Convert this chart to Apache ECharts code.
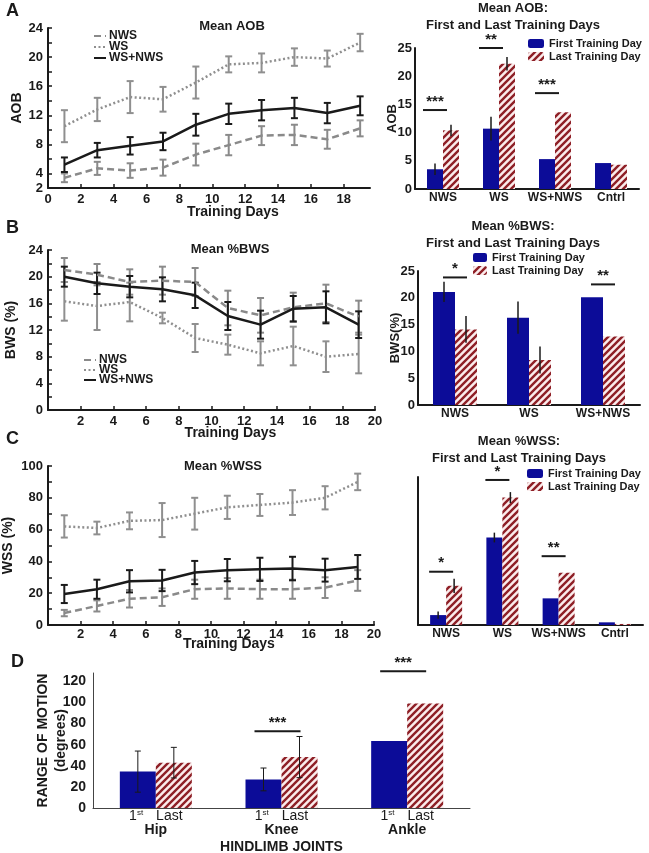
<!DOCTYPE html>
<html>
<head>
<meta charset="utf-8">
<script src="https://cdn.jsdelivr.net/npm/echarts@6/dist/echarts.min.js"></script>
<style>
  html, body { margin: 0; padding: 0; background: #fff; }
  #chart { width: 649px; height: 853px; }
</style>
</head>
<body>
<div id="chart"></div>
<script>
// training days shared by the three time-course panels
const days = [1, 3, 5, 7, 9, 11, 13, 15, 17, 19]

// A: mean AOB over training
const aobNWS = [3.4, 4.7, 4.4, 4.8, 6.6, 7.9, 9.2, 9.3, 8.7, 10.2]
const aobNWSErr = [0.6, 0.9, 1.0, 1.1, 1.5, 1.4, 1.3, 1.4, 1.3, 1.1]
const aobWS = [10.5, 12.8, 14.5, 14.2, 16.5, 19.0, 19.2, 20.0, 19.8, 22.0]
const aobWSErr = [2.2, 1.6, 2.2, 1.7, 2.2, 1.1, 1.3, 1.2, 1.1, 1.2]
const aobMix = [5.2, 7.2, 7.8, 8.4, 10.7, 12.2, 12.7, 13.0, 12.3, 13.3]
const aobMixErr = [1.0, 1.0, 1.2, 1.2, 1.5, 1.4, 1.4, 1.4, 1.4, 1.3]
const aobYTicks = [2, 4, 8, 12, 16, 20, 24]

// A: first vs last day
const aobGroups = ['NWS', 'WS', 'WS+NWS', 'Cntrl']
const aobFirst = [3.5, 10.7, 5.3, 4.6]
const aobFirstErr = [1.0, 2.1, 2.3, 1.5]
const aobLast = [10.4, 22.2, 13.6, 4.3]
const aobLastErr = [1.0, 1.2, 1.2, 1.5]
const aobSig = [[0, 14], [1, 25], [2, 17]]
const aobSigText = ['***', '**', '***']

// B: mean %BWS over training
const bwsNWS = [21.0, 20.3, 19.2, 19.4, 19.2, 15.3, 14.2, 15.4, 16.0, 14.0]
const bwsNWSErr = [1.8, 1.6, 1.9, 2.1, 2.1, 2.6, 2.6, 2.2, 2.8, 2.4]
const bwsWS = [16.3, 15.6, 16.2, 13.8, 10.8, 9.8, 8.5, 9.6, 8.0, 8.4]
const bwsWSErr = [2.9, 3.6, 2.9, 0.8, 2.1, 1.5, 1.8, 2.9, 2.3, 2.9]
const bwsMix = [20.0, 19.0, 18.5, 18.1, 17.2, 14.1, 12.8, 15.2, 15.4, 12.8]
const bwsMixErr = [1.5, 1.6, 1.6, 1.8, 1.9, 2.1, 2.1, 1.9, 2.4, 2.0]
const bwsYTicks = [0, 4, 8, 12, 16, 20, 24]

// B: first vs last day
const bwsGroups = ['NWS', 'WS', 'WS+NWS']
const bwsFirst = [21.1, 16.3, 20.1]
const bwsFirstErr = [1.9, 3.0, 1.5]
const bwsLast = [14.1, 8.4, 12.8]
const bwsLastErr = [2.5, 2.5, 2.0]
const bwsSig = [[0, 23.8], [2, 22.5]]
const bwsSigText = ['*', '**']

// C: mean %WSS over training
const wssNWS = [7.5, 12.0, 16.5, 17.5, 22.5, 23.0, 22.5, 22.5, 23.5, 28.0]
const wssNWSErr = [2.0, 3.5, 5.5, 5.5, 6.0, 6.5, 6.0, 6.0, 6.5, 6.5]
const wssWS = [62, 61, 65.5, 66, 70, 74, 75.5, 77, 80, 90]
const wssWSErr = [7, 4, 5.3, 10.7, 10, 7.3, 6.9, 7.8, 7.3, 5.2]
const wssMix = [19.5, 22.5, 27.5, 28.0, 33.0, 34.5, 35.0, 35.5, 34.5, 36.5]
const wssMixErr = [5.7, 6, 7, 6.7, 7.3, 7, 7.3, 7.4, 7.2, 7.5]
const wssYTicks = [0, 20, 40, 60, 80, 100]

// C: first vs last day
const wssGroups = ['NWS', 'WS', 'WS+NWS', 'Cntrl']
const wssFirst = [6.7, 59.1, 18.0, 1.8]
const wssFirstErr = [2.4, 3.3, 7.6, 1.5]
const wssLast = [26.5, 86.1, 35.3, 0.7]
const wssLastErr = [4.8, 3.7, 5.0, 0.8]
const wssSig = [[0, 36], [1, 98], [2, 46.5]]
const wssSigText = ['*', '*', '**']

// D: range of motion per joint
const joints = ['Hip', 'Knee', 'Ankle']
const romFirst = [34.5, 27.1, 63.6]
const romFirstErr = [19.5, 10.8, 33.8]
const romLast = [43, 48.3, 99]
const romLastErr = [14.5, 19.5, 25]
const romSig = [[1, 72.8], [2, 129.7]]
const romSigText = ['***', '***']

const FONT = '"Liberation Sans", Arial, sans-serif'
const INK = '#1a1a1a'
const BLUE = '#0c0c98'
const GREY = '#8a8a8a'
const GREY_DOT = '#8f8f8f'

// diagonal red hatch for "last day" bars
function makeHatch() {
  const s = 7
  const c = document.createElement('canvas')
  c.width = s
  c.height = s
  const g = c.getContext('2d')
  g.fillStyle = '#fbecec'
  g.fillRect(0, 0, s, s)
  g.strokeStyle = '#8e1f26'
  g.lineWidth = 2.4
  g.beginPath()
  g.moveTo(0, s); g.lineTo(s, 0)
  g.moveTo(-s / 2, s / 2); g.lineTo(s / 2, -s / 2)
  g.moveTo(s / 2, s * 1.5); g.lineTo(s * 1.5, s / 2)
  g.stroke()
  return c
}
const HATCH = { image: makeHatch(), repeat: 'repeat' }

const txt = (size, extra) => Object.assign({ color: INK, fontFamily: FONT, fontWeight: 'bold', fontSize: size }, extra || {})
const pairs = (xs, ys) => ys.map((y, i) => [xs[i], y])
const spans = (xs, m, e) => m.map((v, i) => [xs[i], v - e[i], v + e[i]])
const idx = (arr) => arr.map((_, i) => i)

function errRender(dx, cap, width) {
  return (params, api) => {
    const x = api.value(0)
    const top = api.coord([x, api.value(2)])
    const bot = api.coord([x, api.value(1)])
    const px = top[0] + dx
    const style = { stroke: api.visual('color'), lineWidth: width }
    const kids = [{ type: 'line', shape: { x1: px, y1: top[1], x2: px, y2: bot[1] }, style }]
    if (cap > 0) {
      kids.push({ type: 'line', shape: { x1: px - cap, y1: top[1], x2: px + cap, y2: top[1] }, style })
      kids.push({ type: 'line', shape: { x1: px - cap, y1: bot[1], x2: px + cap, y2: bot[1] }, style })
    }
    return { type: 'group', children: kids }
  }
}

function sigRender(texts, dx, half, font) {
  return (params, api) => {
    const p = api.coord([api.value(0), api.value(1)])
    const cx = p[0] + dx
    return {
      type: 'group',
      children: [
        { type: 'line', shape: { x1: cx - half, y1: p[1], x2: cx + half, y2: p[1] }, style: { stroke: INK, lineWidth: 2 } },
        {
          type: 'text', x: cx, y: p[1] - 1,
          style: { text: texts[params.dataIndex], font, fill: INK, align: 'center', verticalAlign: 'bottom', textAlign: 'center', textVerticalAlign: 'bottom' },
        },
      ],
    }
  }
}

function errSeries(name, xi, data, color, render) {
  return { name, type: 'custom', xAxisIndex: xi, yAxisIndex: xi, data, clip: false, itemStyle: { color }, renderItem: render, silent: true, z: 3 }
}

function lineSeries(name, xi, data, color, type) {
  return { name, type: 'line', xAxisIndex: xi, yAxisIndex: xi, data, symbol: 'none', lineStyle: { color, width: 2.5, type }, itemStyle: { color }, z: 4, silent: true }
}

function timeCourse(xi, nws, nwsE, ws, wsE, mix, mixE) {
  const er = errRender(0, 3.5, 2)
  return [
    errSeries('e-nws-' + xi, xi, spans(days, nws, nwsE), GREY, er),
    errSeries('e-ws-' + xi, xi, spans(days, ws, wsE), GREY_DOT, er),
    lineSeries('NWS', xi, pairs(days, nws), GREY, [7, 4]),
    lineSeries('WS', xi, pairs(days, ws), GREY_DOT, [2, 2.5]),
    errSeries('e-mix-' + xi, xi, spans(days, mix, mixE), INK, er),
    lineSeries('WS+NWS', xi, pairs(days, mix), INK, 'solid'),
  ]
}

function firstLast(xi, names, first, firstE, last, lastE, bw, sig, sigText, sigDx, sigHalf, errW, cap) {
  const g = idx(names)
  return [
    { name: names[0], type: 'bar', xAxisIndex: xi, yAxisIndex: xi, data: first, barWidth: bw, barGap: '0%', itemStyle: { color: BLUE }, silent: true },
    { name: names[1], type: 'bar', xAxisIndex: xi, yAxisIndex: xi, data: last, barWidth: bw, barGap: '0%', itemStyle: { color: HATCH }, silent: true },
    errSeries('e-f-' + xi, xi, spans(g, first, firstE), INK, errRender(-bw / 2, cap, errW)),
    errSeries('e-l-' + xi, xi, spans(g, last, lastE), INK, errRender(bw / 2, cap, errW)),
    errSeries('sig-' + xi, xi, sig, INK, sigRender(sigText, sigDx, sigHalf, 'bold 15px ' + FONT)),
  ]
}

const LEG_LINES = ['NWS', 'WS', 'WS+NWS']
const LEG_BARS = ['First Training Day', 'Last Training Day']

const lineX = (gi, max, margin, nameGap, pad, fmt) => ({
  gridIndex: gi, type: 'value', min: 0, max, interval: 2,
  splitLine: { show: false },
  axisLine: { lineStyle: { color: INK, width: 2 } },
  axisTick: { show: true, inside: true, length: 4, lineStyle: { color: INK, width: 1.5 } },
  axisLabel: Object.assign(txt(13), { margin, formatter: fmt, showMaxLabel: max % 2 === 0 }),
  name: 'Training Days', nameLocation: 'middle', nameGap, nameMoveOverlap: false,
  nameTextStyle: txt(14, { padding: pad }),
})

const lineY = (gi, min, max, interval, shown, name, nameGap) => ({
  gridIndex: gi, type: 'value', min, max, interval,
  splitLine: { show: false },
  axisLine: { show: true, lineStyle: { color: INK, width: 2 } },
  axisTick: { show: true, inside: true, length: 4, lineStyle: { color: INK, width: 1.5 } },
  axisLabel: Object.assign(txt(13), { margin: 5, formatter: (v) => (shown.includes(v) ? String(v) : '') }),
  name, nameLocation: 'middle', nameGap, nameMoveOverlap: false, nameTextStyle: txt(14),
})

const barX = (gi, data) => ({
  gridIndex: gi, type: 'category', data,
  axisLine: { lineStyle: { color: INK, width: 2 } },
  axisTick: { show: false },
  axisLabel: Object.assign(txt(12), { margin: 3, interval: 0 }),
})

const barY = (gi, max, interval, name, showLabels) => ({
  gridIndex: gi, type: 'value', min: 0, max, interval,
  splitLine: { show: false },
  axisLine: { show: true, lineStyle: { color: INK, width: 2 } },
  axisTick: { show: false },
  axisLabel: Object.assign(txt(13), { margin: 3, show: showLabels }),
  name, nameLocation: 'middle', nameGap: 16, nameMoveOverlap: false, nameTextStyle: txt(13),
})

const allEven = (v) => (v % 2 === 0 ? String(v) : '')
const hideZero = (v) => (v !== 0 && v % 2 === 0 ? String(v) : '')

const lineLegend = (left, top, gap) => ({
  data: LEG_LINES, left, top, orient: 'vertical', itemWidth: 12, itemHeight: 8, itemGap: gap,
  selectedMode: false, itemStyle: { opacity: 0, borderWidth: 0 },
  textStyle: txt(12, { lineHeight: 10, padding: [0, 0, 0, -2] }),
})

const barLegend = (left, top, w) => ({
  data: LEG_BARS, left, top, orient: 'vertical', itemWidth: w, itemHeight: 9, itemGap: 2,
  selectedMode: false, textStyle: txt(11, { lineHeight: 11 }),
})

const panel = (left, top, width, height) => ({ left, top, width, height, outerBoundsMode: 'none', containLabel: false })

const option = {
  animation: false,
  backgroundColor: '#fff',
  title: [
    { text: 'A', left: 6, top: 2, padding: 0, textStyle: txt(18) },
    { text: 'B', left: 6, top: 219, padding: 0, textStyle: txt(18) },
    { text: 'C', left: 6, top: 430, padding: 0, textStyle: txt(18) },
    { text: 'D', left: 11, top: 653, padding: 0, textStyle: txt(18) },
    { text: 'Mean AOB', left: 232, top: 20, padding: 0, textAlign: 'center', textStyle: txt(13) },
    { text: 'Mean AOB:\nFirst and Last Training Days', left: 513, top: 0, padding: 0, textAlign: 'center', textStyle: txt(13, { lineHeight: 17 }) },
    { text: 'Mean %BWS', left: 230, top: 243, padding: 0, textAlign: 'center', textStyle: txt(13) },
    { text: 'Mean %BWS:\nFirst and Last Training Days', left: 513, top: 218, padding: 0, textAlign: 'center', textStyle: txt(13, { lineHeight: 17 }) },
    { text: 'Mean %WSS', left: 223, top: 460, padding: 0, textAlign: 'center', textStyle: txt(13) },
    { text: 'Mean %WSS:\nFirst and Last Training Days', left: 519, top: 433, padding: 0, textAlign: 'center', textStyle: txt(13, { lineHeight: 17 }) },
  ],
  legend: [
    lineLegend(88, 25, -1),
    lineLegend(78, 349, -2),
    barLegend(523, 33, 16),
    barLegend(468, 247, 14),
    barLegend(522, 463, 16),
  ],
  grid: [
    panel(48, 28, 322, 160),
    panel(415, 48, 224, 141),
    panel(48, 250, 327, 160),
    panel(418, 271, 222, 134),
    panel(48, 466, 326, 159),
    panel(418, 477, 225, 148),
    panel(93, 673, 377, 135),
  ],
  xAxis: [
    lineX(0, 19.6, 5, 17, [0, 0, 0, 48], allEven),
    barX(1, aobGroups),
    lineX(2, 20, 5, 16, [0, 0, 0, 38], hideZero),
    barX(3, bwsGroups),
    lineX(4, 20, 3, 12, [0, 0, 0, 36], hideZero),
    barX(5, wssGroups),
    {
      gridIndex: 6, type: 'category', data: joints,
      axisLine: { lineStyle: { color: '#444', width: 1 } },
      axisTick: { show: false },
      axisLabel: {
        interval: 0, margin: 1, color: INK, fontFamily: FONT,
        formatter: (v) => `{n|1}{s|st}{g|}{l|Last}\n{j|${v}}`,
        rich: {
          n: { fontSize: 14, fontFamily: FONT, color: INK, lineHeight: 14 },
          s: { fontSize: 8, fontFamily: FONT, color: INK, verticalAlign: 'top' },
          g: { width: 13 },
          l: { fontSize: 14, fontFamily: FONT, color: INK, lineHeight: 14 },
          j: { fontSize: 14, fontFamily: FONT, fontWeight: 'bold', color: INK, lineHeight: 15 },
        },
      },
      name: 'HINDLIMB JOINTS', nameLocation: 'middle', nameGap: 32, nameMoveOverlap: false, nameTextStyle: txt(14),
    },
  ],
  yAxis: [
    lineY(0, 2, 24, 2, aobYTicks, 'AOB', 24),
    barY(1, 25, 5, 'AOB', true),
    lineY(2, 0, 24, 2, bwsYTicks, 'BWS (%)', 30),
    barY(3, 25, 5, 'BWS(%)', true),
    lineY(4, 0, 100, 10, wssYTicks, 'WSS (%)', 33),
    barY(5, 100, 20, '', false),
    {
      gridIndex: 6, type: 'value', min: 0, max: 128, interval: 20,
      splitLine: { show: false },
      axisLine: { show: true, lineStyle: { color: '#444', width: 1 } },
      axisTick: { show: false },
      axisLabel: Object.assign(txt(14), { margin: 7, showMaxLabel: false }),
      name: 'RANGE OF MOTION\n(degrees)', nameLocation: 'middle', nameGap: 23, nameMoveOverlap: false,
      nameTextStyle: txt(14, { lineHeight: 18 }),
    },
  ],
  series: [
    ...timeCourse(0, aobNWS, aobNWSErr, aobWS, aobWSErr, aobMix, aobMixErr),
    ...firstLast(1, LEG_BARS, aobFirst, aobFirstErr, aobLast, aobLastErr, 16, aobSig, aobSigText, -8, 12, 1.5, 0),
    ...timeCourse(2, bwsNWS, bwsNWSErr, bwsWS, bwsWSErr, bwsMix, bwsMixErr),
    ...firstLast(3, LEG_BARS, bwsFirst, bwsFirstErr, bwsLast, bwsLastErr, 22, bwsSig, bwsSigText, 0, 12, 1.5, 0),
    ...timeCourse(4, wssNWS, wssNWSErr, wssWS, wssWSErr, wssMix, wssMixErr),
    ...firstLast(5, LEG_BARS, wssFirst, wssFirstErr, wssLast, wssLastErr, 16, wssSig, wssSigText, -5, 12, 1.5, 0),
    ...firstLast(6, ['1st day', 'Last day'], romFirst, romFirstErr, romLast, romLastErr, 36, romSig, romSigText, -4, 23, 1, 3),
  ],
}

const chart = echarts.init(document.getElementById('chart'), null, { renderer: 'canvas' })
chart.setOption(option)
</script>
</body>
</html>
